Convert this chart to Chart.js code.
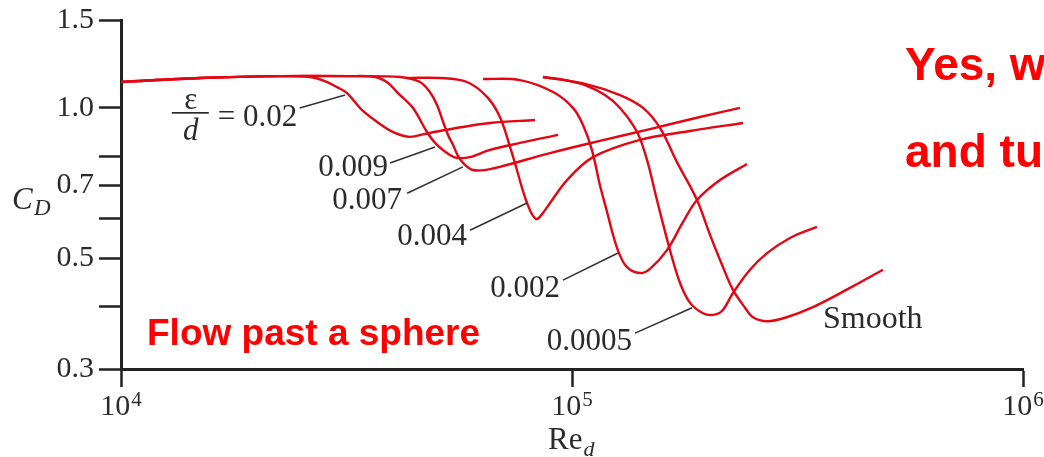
<!DOCTYPE html>
<html>
<head>
<meta charset="utf-8">
<script src="https://cdn.jsdelivr.net/npm/chart.js@4.4.0/dist/chart.umd.min.js"></script>
<style>
html, body { margin: 0; padding: 0; background: #fff; }
#wrap { width: 1044px; height: 457px; }
</style>
</head>
<body>
<div id="wrap"><canvas id="dragChart" width="1044" height="457"></canvas></div>
<script>
// Reynolds number (x) and drag coefficient (y)
let re002 = [10000, 15000, 22500, 26200, 28300, 30100, 31700, 34400, 37500, 40500, 43700, 47200, 52300, 57300, 65800, 82800];
let cd002 = [1.127, 1.148, 1.158, 1.153, 1.132, 1.101, 1.071, 0.986, 0.929, 0.891, 0.875, 0.887, 0.903, 0.916, 0.933, 0.946];

let re0009 = [10000, 15000, 22500, 32200, 36600, 39100, 40900, 44400, 47700, 50200, 53600, 55600, 59400, 65800, 76700, 93100];
let cd0009 = [1.127, 1.148, 1.158, 1.158, 1.153, 1.122, 1.076, 1.000, 0.895, 0.843, 0.805, 0.794, 0.797, 0.824, 0.851, 0.883];

let re0007 = [10000, 15000, 22500, 32200, 41600, 46000, 48400, 50200, 51800, 53100, 54500, 55900, 57900, 60300, 64100, 69200, 89400, 115300, 148900, 192200, 235800];
let cd0007 = [1.127, 1.148, 1.158, 1.158, 1.153, 1.127, 1.076, 1.014, 0.937, 0.883, 0.843, 0.801, 0.769, 0.751, 0.751, 0.762, 0.812, 0.859, 0.907, 0.959, 1.000];

let re0004 = [43100, 51000, 58500, 64800, 69200, 72900, 75500, 77500, 79500, 81500, 83600, 86200, 89400, 97500, 111300, 141500, 182700, 239400];
let cd0004 = [1.148, 1.148, 1.127, 1.052, 0.959, 0.835, 0.751, 0.691, 0.645, 0.613, 0.599, 0.616, 0.645, 0.717, 0.797, 0.863, 0.899, 0.933];

let re0002 = [63500, 76700, 90800, 100500, 105800, 110700, 115300, 119600, 123300, 127100, 132400, 141500, 148900, 162400, 176300, 189300, 212900, 244300];
let cd0002 = [1.143, 1.137, 1.076, 1.000, 0.924, 0.824, 0.701, 0.619, 0.557, 0.512, 0.480, 0.467, 0.476, 0.519, 0.591, 0.654, 0.717, 0.772];

let re00005 = [86200, 96500, 106900, 118300, 127800, 139400, 146700, 154300, 164900, 173600, 182700, 195200, 205400, 215100, 227500, 248100, 270700, 304400, 349300];
let cd00005 = [1.153, 1.137, 1.111, 1.061, 1.000, 0.895, 0.786, 0.654, 0.519, 0.446, 0.407, 0.388, 0.385, 0.392, 0.426, 0.474, 0.512, 0.549, 0.578];

let reSmooth = [86200, 106900, 127800, 143700, 156700, 170900, 189300, 202300, 215100, 227500, 241900, 251900, 270700, 296800, 342200, 413400, 489200];
let cdSmooth = [1.153, 1.117, 1.061, 1.000, 0.912, 0.779, 0.654, 0.557, 0.485, 0.432, 0.398, 0.381, 0.374, 0.380, 0.399, 0.436, 0.474];

// axis ticks
let xTicks = [1e4, 1e5, 1e6];
let xTickPow = ['4', '5', '6'];
let yTicks = [0.3, 0.4, 0.5, 0.6, 0.7, 0.8, 1.0, 1.5];
let yTickText = ['0.3', '', '0.5', '', '0.7', '', '1.0', '1.5'];

let curves = [
    { name: '0.02', re: re002, cd: cd002 },
    { name: '0.009', re: re0009, cd: cd0009 },
    { name: '0.007', re: re0007, cd: cd0007 },
    { name: '0.004', re: re0004, cd: cd0004 },
    { name: '0.002', re: re0002, cd: cd0002 },
    { name: '0.0005', re: re00005, cd: cd00005 },
    { name: 'Smooth', re: reSmooth, cd: cdSmooth }
];

// curve labels with leader lines, given in (Re, CD) so they follow the scales
let notes = [
    { text: '= 0.02', at: [24600, 0.920], from: [24900, 1.000], to: [31400, 1.061], frac: true },
    { text: '0.009', at: [39100, 0.731], from: [39500, 0.776], to: [49700, 0.835] },
    { text: '0.007', at: [42000, 0.628], from: [43100, 0.675], to: [57300, 0.762] },
    { text: '0.004', at: [58500, 0.531], from: [59400, 0.569], to: [79500, 0.645] },
    { text: '0.002', at: [94100, 0.418], from: [95500, 0.452], to: [126500, 0.512] },
    { text: '0.0005', at: [135800, 0.327], from: [138000, 0.354], to: [184600, 0.398] }
];

const SERIF = '"Liberation Serif", "DejaVu Serif", serif';
const SANS = '"Liberation Sans", Arial, sans-serif';
const INK = '#2b2b2b';

const notesPlugin = {
    id: 'notes',
    afterDatasetsDraw(chart) {
        let ctx = chart.ctx;
        let xs = chart.scales.x, ys = chart.scales.y;
        let px = p => [xs.getPixelForValue(p[0]), ys.getPixelForValue(p[1])];
        ctx.save();
        ctx.fillStyle = INK;
        ctx.strokeStyle = '#333';
        ctx.lineWidth = 1.6;
        ctx.font = '31px ' + SERIF;
        ctx.textBaseline = 'alphabetic';

        notes.forEach(n => {
            let a = px(n.at), f = px(n.from), t = px(n.to);
            ctx.beginPath();
            ctx.moveTo(f[0], f[1]);
            ctx.lineTo(t[0], t[1]);
            ctx.stroke();
            ctx.textAlign = 'right';
            ctx.fillText(n.text, a[0], a[1]);
            if (n.frac) {
                // epsilon over d, left of "= 0.02"
                let w = ctx.measureText(n.text).width;
                let right = a[0] - w - 9;
                let cx = right - 18;
                ctx.fillRect(right - 37, a[1] - 14, 37, 1.7);
                ctx.textAlign = 'center';
                ctx.fillText('ε', cx, a[1] - 17);
                ctx.font = 'italic 31px ' + SERIF;
                ctx.fillText('d', cx, a[1] + 14);
                ctx.font = '31px ' + SERIF;
            }
        });

        let s = px([360200, 0.362]);
        ctx.textAlign = 'left';
        ctx.font = '32px ' + SERIF;
        ctx.fillText('Smooth', s[0], s[1]);
        ctx.restore();
    },
    afterDraw(chart) {
        let ctx = chart.ctx;
        let xs = chart.scales.x, ys = chart.scales.y;
        ctx.save();
        ctx.fillStyle = INK;
        ctx.textBaseline = 'alphabetic';

        // x tick labels as 10 with a raised power
        xTicks.forEach((v, i) => {
            let cx = xs.getPixelForValue(v);
            ctx.font = '30px ' + SERIF;
            let w1 = ctx.measureText('10').width;
            ctx.font = '21px ' + SERIF;
            let w2 = ctx.measureText(xTickPow[i]).width;
            let left = cx - (w1 + w2 + 1) / 2;
            ctx.textAlign = 'left';
            ctx.font = '30px ' + SERIF;
            ctx.fillText('10', left, 415);
            ctx.font = '21px ' + SERIF;
            ctx.fillText(xTickPow[i], left + w1 + 1, 406);
        });

        // C_D axis title
        let cy = ys.getPixelForValue(0.7) + 24;
        ctx.textAlign = 'left';
        ctx.font = 'italic 31px ' + SERIF;
        ctx.fillText('C', 12, cy);
        ctx.font = 'italic 23px ' + SERIF;
        ctx.fillText('D', 34, cy + 6);

        // Re_d axis title
        let rx = xs.getPixelForValue(1e5) - 24;
        ctx.font = '31px ' + SERIF;
        ctx.fillText('Re', rx, 449);
        let rw = ctx.measureText('Re').width;
        ctx.font = 'italic 22px ' + SERIF;
        ctx.fillText('d', rx + rw + 1, 456);

        // red slide text
        ctx.fillStyle = '#ff0000';
        ctx.font = 'bold 46px ' + SANS;
        ctx.fillText('Yes, w', 905, 80);
        ctx.fillText('and tu', 905, 167);
        ctx.font = 'bold 37px ' + SANS;
        ctx.fillText('Flow past a sphere', 147, 345);
        ctx.restore();
    }
};

new Chart(document.getElementById('dragChart'), {
    type: 'line',
    data: {
        datasets: curves.map(c => ({
            label: c.name,
            data: c.re.map((r, i) => ({ x: r, y: c.cd[i] })),
            borderColor: '#e30613',
            borderWidth: 2.4,
            pointRadius: 0,
            fill: false,
            tension: 0.35
        }))
    },
    options: {
        responsive: false,
        animation: false,
        devicePixelRatio: 1,
        layout: { padding: { top: 20, right: 21, left: 0, bottom: 0 } },
        plugins: { legend: { display: false }, tooltip: { enabled: false } },
        scales: {
            x: {
                type: 'logarithmic',
                min: 1e4,
                max: 1e6,
                afterBuildTicks: s => { s.ticks = xTicks.map(v => ({ value: v })); },
                afterFit: s => { s.height = 88; s.paddingLeft = 0; s.paddingRight = 0; },
                grid: { drawOnChartArea: false, drawTicks: true, tickLength: 18, tickWidth: 2.5, tickColor: '#222' },
                border: { display: true, color: '#222', width: 3 },
                ticks: { display: false }
            },
            y: {
                type: 'logarithmic',
                min: 0.3,
                max: 1.5,
                afterBuildTicks: s => { s.ticks = yTicks.map(v => ({ value: v })); },
                afterFit: s => { s.width = 121; s.paddingTop = 0; s.paddingBottom = 0; },
                grid: { drawOnChartArea: false, drawTicks: true, tickLength: 22, tickWidth: 2.5, tickColor: '#222' },
                border: { display: true, color: '#222', width: 3 },
                ticks: {
                    autoSkip: false, padding: 5, color: INK, font: { family: SERIF, size: 30 },
                    callback: (v, i) => yTickText[i]
                }
            }
        }
    },
    plugins: [notesPlugin]
});
</script>
</body>
</html>
